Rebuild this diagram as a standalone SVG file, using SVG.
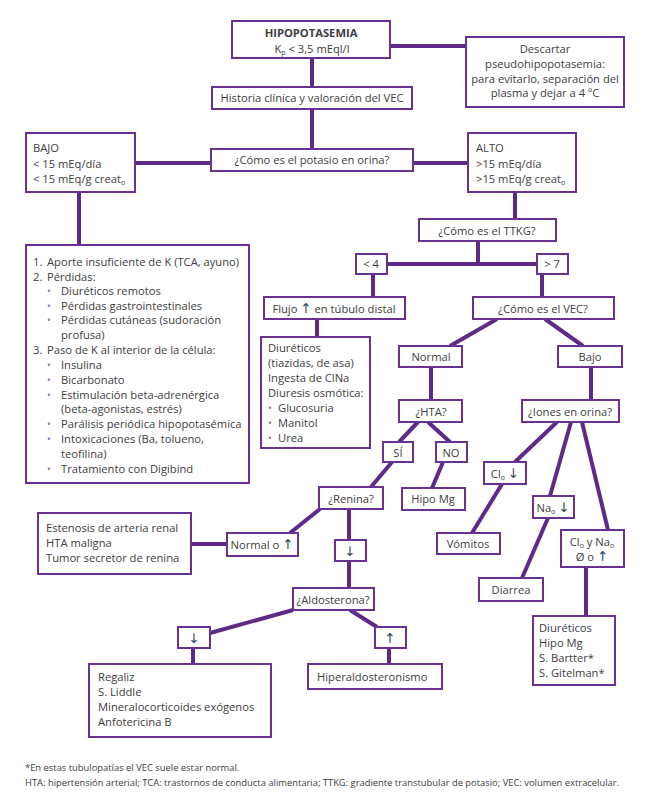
<svg xmlns="http://www.w3.org/2000/svg" width="656" height="806" viewBox="0 0 656 806">
<style>
.b{fill:#fff;stroke:#6b3192;stroke-width:2}
.c line{stroke:#5f2a87;stroke-width:4;stroke-linecap:butt}
text{font-family:"Open Sans","Noto Sans","Liberation Sans",sans-serif;font-size:11.2px;fill:#3d3d3d}
.m{text-anchor:middle}
.ar{font-family:"DejaVu Sans","Liberation Sans",sans-serif;fill:#2f4a55;font-size:13.5px}
.bu{fill:#8a6a9e;font-size:10px}
.ft{font-size:9.4px}
</style>
<rect width="656" height="806" fill="#fff"/>
<g id="connectors" class="c">
<line x1="390" y1="46" x2="466" y2="46"/>
<line x1="312" y1="58" x2="312" y2="87"/>
<line x1="312" y1="109" x2="312" y2="149"/>
<line x1="135" y1="163" x2="211" y2="163"/>
<line x1="413" y1="163" x2="468" y2="163"/>
<line x1="79" y1="192" x2="79" y2="245"/>
<line x1="515" y1="192" x2="515" y2="219"/>
<line x1="478" y1="241" x2="478" y2="264"/>
<line x1="387" y1="264" x2="537" y2="264"/>
<line x1="373" y1="274" x2="373" y2="297"/>
<line x1="542" y1="274" x2="542" y2="297"/>
<line x1="317" y1="319" x2="317" y2="337"/>
<line x1="497" y1="319" x2="450" y2="346"/>
<line x1="545" y1="319" x2="583" y2="346"/>
<line x1="431" y1="367" x2="431" y2="400"/>
<line x1="591" y1="367" x2="591" y2="400"/>
<line x1="418" y1="422" x2="399" y2="442"/>
<line x1="428" y1="422" x2="450" y2="442"/>
<line x1="443" y1="462" x2="432" y2="488"/>
<line x1="392" y1="462" x2="371" y2="487"/>
<line x1="320" y1="509" x2="290" y2="533"/>
<line x1="191" y1="544" x2="227" y2="544"/>
<line x1="349" y1="509" x2="349" y2="540"/>
<line x1="349" y1="561" x2="349" y2="588"/>
<line x1="293" y1="610" x2="210" y2="633"/>
<line x1="350" y1="610" x2="377" y2="627"/>
<line x1="193" y1="648" x2="193" y2="664"/>
<line x1="389" y1="648" x2="389" y2="664"/>
<line x1="557" y1="422" x2="515" y2="462"/>
<line x1="571" y1="422" x2="550" y2="496"/>
<line x1="582" y1="422" x2="608" y2="530"/>
<line x1="502" y1="484" x2="472" y2="533"/>
<line x1="548" y1="518" x2="522" y2="578"/>
<line x1="586" y1="567" x2="586" y2="616"/>
</g>
<g id="hipo"><rect class="b" x="232" y="21" width="158" height="37"/>
<text class="m" x="311" y="37" font-weight="bold" font-size="11.6px" fill="#222">HIPOPOTASEMIA</text>
<text class="m" x="312" y="53">K<tspan font-size="7px" dy="2">p</tspan><tspan dy="-2"> &lt; 3,5 mEql/l</tspan></text></g>
<g id="descartar"><rect class="b" x="466" y="37" width="158" height="70"/>
<text class="m" x="545" y="53">Descartar</text>
<text class="m" x="545" y="68">pseudohipopotasemia:</text>
<text class="m" x="545" y="83">para evitarlo, separación del</text>
<text class="m" x="545" y="97">plasma y dejar a 4 ºC</text></g>
<g id="historia"><rect class="b" x="212" y="87" width="200" height="22"/>
<text class="m" x="312" y="102">Historia clínica y valoración del VEC</text></g>
<g id="potasio"><rect class="b" x="211" y="149" width="202" height="22"/>
<text class="m" x="312" y="164">¿Cómo es el potasio en orina?</text></g>
<g id="bajo"><rect class="b" x="26" y="133" width="109" height="59"/>
<text x="33" y="152">BAJO</text>
<text x="33" y="168">&lt; 15 mEq/día</text>
<text x="33" y="183">&lt; 15 mEq/g creat<tspan font-size="7px" dy="2">o</tspan></text></g>
<g id="alto"><rect class="b" x="468" y="133" width="108" height="59"/>
<text x="476" y="152">ALTO</text>
<text x="476" y="168">&gt;15 mEq/día</text>
<text x="476" y="183">&gt;15 mEq/g creat<tspan font-size="7px" dy="2">o</tspan></text></g>
<g id="lista"><rect class="b" x="26" y="245" width="223" height="238"/>
<text x="33" y="266">1.</text><text x="47" y="266">Aporte insuficiente de K (TCA, ayuno)</text>
<text x="33" y="281">2.</text><text x="47" y="281">Pérdidas:</text>
<text class="bu" x="47" y="295">•</text><text x="61" y="295">Diuréticos remotos</text>
<text class="bu" x="47" y="310">•</text><text x="61" y="310">Pérdidas gastrointestinales</text>
<text class="bu" x="47" y="324">•</text><text x="61" y="324">Pérdidas cutáneas (sudoración</text>
<text x="61" y="339">profusa)</text>
<text x="33" y="354">3.</text><text x="47" y="354">Paso de K al interior de la célula:</text>
<text class="bu" x="47" y="369">•</text><text x="61" y="369">Insulina</text>
<text class="bu" x="47" y="384">•</text><text x="61" y="384">Bicarbonato</text>
<text class="bu" x="47" y="399">•</text><text x="61" y="399">Estimulación beta-adrenérgica</text>
<text x="61" y="413">(beta-agonistas, estrés)</text>
<text class="bu" x="47" y="428">•</text><text x="61" y="428">Parálisis periódica hipopotasémica</text>
<text class="bu" x="47" y="443">•</text><text x="61" y="443">Intoxicaciones (Ba, tolueno,</text>
<text x="61" y="458">teofilina)</text>
<text class="bu" x="47" y="473">•</text><text x="61" y="473">Tratamiento con Digibind</text></g>
<g id="ttkg"><rect class="b" x="419" y="219" width="137" height="22"/>
<text class="m" x="487" y="235">¿Cómo es el TTKG?</text></g>
<g id="menor4"><rect class="b" x="356" y="254" width="31" height="20"/>
<text class="m" x="371" y="268">&lt; 4</text></g>
<g id="mayor7"><rect class="b" x="537" y="254" width="31" height="20"/>
<text class="m" x="552" y="268">&gt; 7</text></g>
<g id="flujo"><rect class="b" x="264" y="297" width="141" height="22"/>
<text class="m" x="334" y="313">Flujo <tspan class="ar">↑</tspan> en túbulo distal</text></g>
<g id="vec"><rect class="b" x="473" y="297" width="141" height="22"/>
<text class="m" x="543" y="313">¿Cómo es el VEC?</text></g>
<g id="diureticos1"><rect class="b" x="261" y="337" width="109" height="111"/>
<text x="268" y="352">Diuréticos</text>
<text x="268" y="367">(tiazidas, de asa)</text>
<text x="268" y="382">Ingesta de ClNa</text>
<text x="268" y="397">Diuresis osmótica:</text>
<text class="bu" x="268" y="412">•</text><text x="278" y="412">Glucosuria</text>
<text class="bu" x="268" y="427">•</text><text x="278" y="427">Manitol</text>
<text class="bu" x="268" y="442">•</text><text x="278" y="442">Urea</text></g>
<g id="normal"><rect class="b" x="399" y="346" width="63" height="21"/>
<text class="m" x="431" y="361">Normal</text></g>
<g id="bajovec"><rect class="b" x="558" y="346" width="64" height="21"/>
<text class="m" x="590" y="361">Bajo</text></g>
<g id="hta"><rect class="b" x="399" y="400" width="63" height="22"/>
<text class="m" x="431" y="416">¿HTA?</text></g>
<g id="iones"><rect class="b" x="522" y="400" width="97" height="22"/>
<text class="m" x="570" y="416">¿Iones en orina?</text></g>
<g id="si"><rect class="b" x="383" y="442" width="30" height="20"/>
<text class="m" x="398" y="457">SÍ</text></g>
<g id="no"><rect class="b" x="436" y="442" width="31" height="20"/>
<text class="m" x="451" y="457">NO</text></g>
<g id="hipomg"><rect class="b" x="402" y="488" width="63" height="22"/>
<text class="m" x="433" y="503">Hipo Mg</text></g>
<g id="renina"><rect class="b" x="319" y="487" width="64" height="22"/>
<text class="m" x="351" y="503">¿Renina?</text></g>
<g id="normalo"><rect class="b" x="227" y="533" width="71" height="23"/>
<text class="m" x="262" y="549">Normal o <tspan class="ar">↑</tspan></text></g>
<g id="estenosis"><rect class="b" x="38" y="513" width="153" height="61"/>
<text x="46" y="532">Estenosis de arteria renal</text>
<text x="46" y="547">HTA maligna</text>
<text x="46" y="562">Tumor secretor de renina</text></g>
<g id="reninabaja"><rect class="b" x="335" y="540" width="31" height="21"/>
<text class="m ar" x="350" y="556">↓</text></g>
<g id="aldosterona"><rect class="b" x="293" y="588" width="81" height="22"/>
<text class="m" x="333" y="604">¿Aldosterona?</text></g>
<g id="aldobaja"><rect class="b" x="178" y="627" width="32" height="21"/>
<text class="m ar" x="194" y="643">↓</text></g>
<g id="aldoalta"><rect class="b" x="375" y="627" width="31" height="21"/>
<text class="m ar" x="390" y="643">↑</text></g>
<g id="regaliz"><rect class="b" x="89" y="664" width="182" height="73"/>
<text x="98" y="681">Regaliz</text>
<text x="98" y="696">S. Liddle</text>
<text x="98" y="711">Mineralocorticoides exógenos</text>
<text x="98" y="726">Anfotericina B</text></g>
<g id="hiperaldo"><rect class="b" x="308" y="664" width="134" height="25"/>
<text x="317" y="681">Hiperaldosteronismo</text></g>
<g id="cl"><rect class="b" x="484" y="462" width="42" height="22"/>
<text class="m" x="505" y="478">Cl<tspan font-size="7px" dy="2">o</tspan><tspan dy="-2"> </tspan><tspan class="ar">↓</tspan></text></g>
<g id="vomitos"><rect class="b" x="437" y="533" width="63" height="21"/>
<text class="m" x="468" y="548">Vómitos</text></g>
<g id="na"><rect class="b" x="533" y="496" width="41" height="22"/>
<text class="m" x="553" y="512">Na<tspan font-size="7px" dy="2">o</tspan><tspan dy="-2"> </tspan><tspan class="ar">↓</tspan></text></g>
<g id="diarrea"><rect class="b" x="479" y="578" width="64" height="23"/>
<text class="m" x="511" y="594">Diarrea</text></g>
<g id="clyna"><rect class="b" x="561" y="530" width="63" height="37"/>
<text class="m" x="592" y="546">Cl<tspan font-size="7px" dy="2">o</tspan><tspan dy="-2"> y Na</tspan><tspan font-size="7px" dy="2">o</tspan></text>
<text class="m" x="592" y="561">Ø o <tspan class="ar">↑</tspan></text></g>
<g id="diureticos2"><rect class="b" x="533" y="616" width="82" height="69"/>
<text x="539" y="632">Diuréticos</text>
<text x="539" y="647">Hipo Mg</text>
<text x="539" y="662">S. Bartter*</text>
<text x="539" y="677">S. Gitelman*</text></g>
<g id="notas">
<text class="ft" x="25" y="771">*En estas tubulopatías el VEC suele estar normal.</text>
<text class="ft" x="25" y="786">HTA: hipertensión arterial; TCA: trastornos de conducta alimentaria; TTKG: gradiente transtubular de potasio; VEC: volumen extracelular.</text>
</g>
</svg>
